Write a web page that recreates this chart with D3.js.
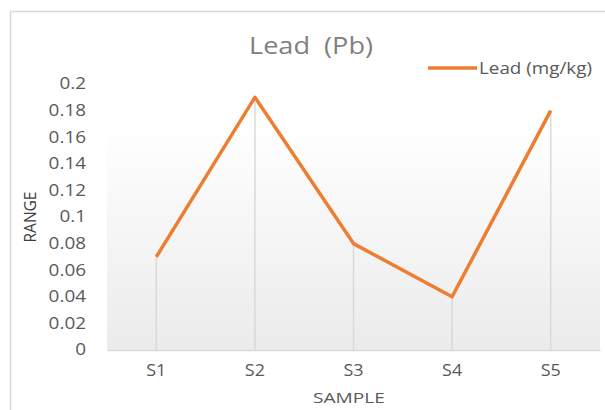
<!DOCTYPE html>
<html><head><meta charset="utf-8">
<script src="https://cdn.jsdelivr.net/npm/d3@7"></script>
<style>body{margin:0;background:#fff;} svg{display:block;font-family:"Open Sans",sans-serif;} text{white-space:pre;}</style>
</head><body>
<svg id="c" width="605" height="410"></svg>
<script>
const categories = ["S1","S2","S3","S4","S5"];
const leadValues = [0.07, 0.19, 0.08, 0.04, 0.18];
const yTicks = [0,0.02,0.04,0.06,0.08,0.1,0.12,0.14,0.16,0.18,0.2];
const seriesName = "Lead (mg/kg)";
const title = "Lead  (Pb)";
const xTitle = "SAMPLE";
const yTitle = "RANGE";

const svg = d3.select("#c");
const W = 605, H = 410;
const m = {left:107, right:5, top:84, bottom:60};

function stretch(sel, k){
  sel.each(function(){
    const len = this.getComputedTextLength();
    d3.select(this).attr("textLength", len*k).attr("lengthAdjust","spacingAndGlyphs");
  });
}

// chart border
svg.append("rect").attr("x",10.5).attr("y",11.5).attr("width",620).attr("height",420)
  .attr("fill","#fff").attr("stroke","#d9d9d9").attr("stroke-width",1.5);

const defs = svg.append("defs");
const g = defs.append("linearGradient").attr("id","bg").attr("x1",0).attr("y1",0).attr("x2",0).attr("y2",1);
g.append("stop").attr("offset","0%").attr("stop-color","#ffffff");
g.append("stop").attr("offset","15%").attr("stop-color","#ffffff");
g.append("stop").attr("offset","100%").attr("stop-color","#ebebeb");

const x = d3.scaleBand().domain(categories).range([m.left, W-m.right]);
const y = d3.scaleLinear().domain([0,0.2]).range([H-m.bottom, m.top]);

svg.append("rect").attr("x",m.left).attr("y",y(0.2)).attr("width",W-m.right-m.left).attr("height",y(0)-y(0.2)).attr("fill","url(#bg)");

// drop lines
svg.selectAll(".drop").data(categories).join("line")
  .attr("x1",d=>x(d)+x.bandwidth()/2).attr("x2",d=>x(d)+x.bandwidth()/2)
  .attr("y1",(d,i)=>y(leadValues[i])).attr("y2",y(0))
  .attr("stroke","#d9d9d9").attr("stroke-width",1.5);

// x axis
const xa = svg.append("g").attr("transform",`translate(0,${y(0)})`).call(d3.axisBottom(x).tickSize(0).tickPadding(15));
xa.select(".domain").attr("stroke","#d9d9d9").attr("stroke-width",1.5);
xa.selectAll("text").attr("font-size",16).attr("fill","#595959").attr("font-family","Open Sans");
stretch(xa.selectAll("text"), 1.12);

// y axis
const ya = svg.append("g").attr("transform",`translate(${m.left},0)`).call(d3.axisLeft(y).tickValues(yTicks).tickSize(0).tickPadding(21).tickFormat(d=>String(+d.toFixed(2))));
ya.select(".domain").remove();
ya.selectAll("text").attr("font-size",15.5).attr("fill","#595959").attr("font-family","Open Sans");
stretch(ya.selectAll("text"), 1.22);

// line
svg.append("path").datum(leadValues)
  .attr("d", d3.line().x((d,i)=>x(categories[i])+x.bandwidth()/2).y(d=>y(d)))
  .attr("fill","none").attr("stroke","#ED7D31").attr("stroke-width",3.5).attr("stroke-linejoin","round");

// title
const t = svg.append("text").attr("x",311).attr("y",54).attr("text-anchor","middle").attr("font-size",24).attr("fill","#808080").text(title);
t.attr("textLength",124).attr("lengthAdjust","spacingAndGlyphs");

// legend
svg.append("line").attr("x1",428).attr("x2",477).attr("y1",68).attr("y2",68).attr("stroke","#ED7D31").attr("stroke-width",3.5);
svg.append("text").attr("x",479).attr("y",74).attr("font-size",16).attr("fill","#595959").text(seriesName)
  .attr("textLength",113).attr("lengthAdjust","spacingAndGlyphs");

// axis titles
svg.append("text").attr("transform","translate(36,217) rotate(-90)").attr("text-anchor","middle").attr("font-size",15.5).attr("fill","#404040").text(yTitle)
  .attr("textLength",51).attr("lengthAdjust","spacingAndGlyphs");
svg.append("text").attr("x",349).attr("y",403).attr("text-anchor","middle").attr("font-size",15).attr("fill","#595959").text(xTitle)
  .attr("textLength",72).attr("lengthAdjust","spacingAndGlyphs");
</script>
</body></html>
